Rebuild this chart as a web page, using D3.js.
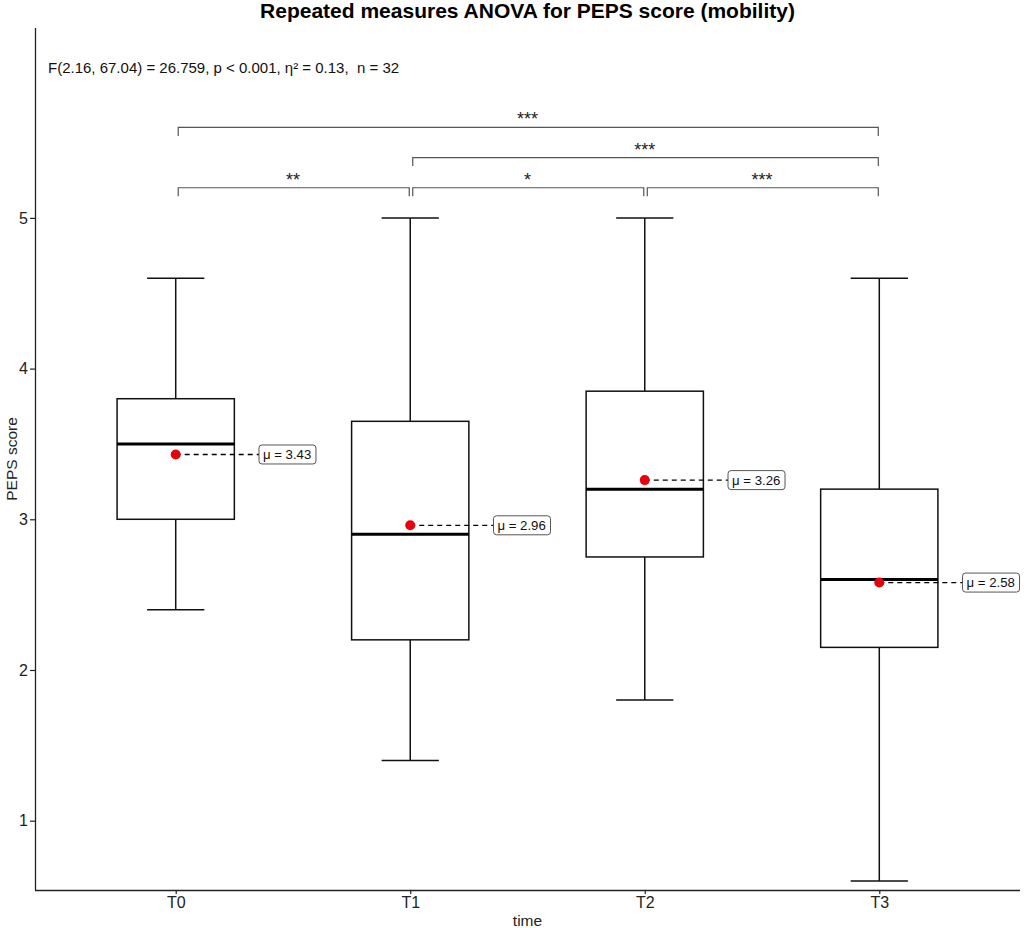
<!DOCTYPE html>
<html>
<head>
<meta charset="utf-8">
<script src="https://cdn.jsdelivr.net/npm/d3@7"></script>
<style>
  body { margin: 0; background: #fff; }
  text { font-family: "Liberation Sans", Arial, sans-serif; }
</style>
</head>
<body>
<div id="chart"></div>
<script>
// data
const groups = ["T0", "T1", "T2", "T3"];
const whiskerLow = [2.4, 1.4, 1.8, 0.6];
const q1 = [3.0, 2.2, 2.75, 2.15];
const medians = [3.5, 2.9, 3.2, 2.6];
const q3 = [3.8, 3.65, 3.85, 3.2];
const whiskerHigh = [4.6, 5.0, 5.0, 4.6];
const means = [3.43, 2.96, 3.26, 2.58];
const yTicks = [1, 2, 3, 4, 5];

// pairwise comparisons: [from, to, bracket height, label]
const comparisons = [
  ["T0", "T1", 5.2, "**"],
  ["T1", "T2", 5.2, "*"],
  ["T2", "T3", 5.2, "***"],
  ["T1", "T3", 5.4, "***"],
  ["T0", "T3", 5.6, "***"]
];

const title = "Repeated measures ANOVA for PEPS score (mobility)";
const subtitle = "F(2.16, 67.04) = 26.759, p < 0.001, \u03b7\u00b2 = 0.13,  n = 32";

const W = 1026, H = 928;
const MARGIN = {top: 28, right: 6, bottom: 38, left: 35};

const svg = d3.select("#chart")
  .append("svg")
    .attr("width", W)
    .attr("height", H);

const x = d3.scalePoint()
  .domain(groups)
  .range([MARGIN.left, W - MARGIN.right])
  .padding(0.6);

const y = d3.scaleLinear()
  .domain([0.54, 6.26])
  .range([H - MARGIN.bottom, MARGIN.top]);

const step = x.step();
const boxHalf = step * 0.25;
const capHalf = step * 0.122;

const stats = groups.map((g, i) => ({
  g, lo: whiskerLow[i], q1: q1[i], med: medians[i], q3: q3[i], hi: whiskerHigh[i], mean: means[i]
}));

// title
svg.append("text")
  .attr("x", (MARGIN.left + W - MARGIN.right) / 2)
  .attr("y", 18)
  .attr("text-anchor", "middle")
  .attr("font-size", 21)
  .attr("font-weight", "bold")
  .text(title);

svg.append("text")
  .attr("x", 48)
  .attr("y", 73)
  .attr("font-size", 15)
  .attr("fill", "#111")
  .style("white-space", "pre")
  .text(subtitle);

// axes
const xAxis = svg.append("g")
  .attr("transform", `translate(0,${H - MARGIN.bottom})`)
  .call(d3.axisBottom(x).tickSize(4).tickPadding(3));

const yAxis = svg.append("g")
  .attr("transform", `translate(${MARGIN.left},0)`)
  .call(d3.axisLeft(y).tickValues(yTicks).tickSize(5).tickPadding(2).tickFormat(d3.format("d")));

[xAxis, yAxis].forEach(a => {
  a.select(".domain").attr("stroke", "#222").attr("stroke-width", 1.3);
  a.selectAll(".tick line").attr("stroke", "#222").attr("stroke-width", 1.2);
  a.selectAll(".tick text")
    .attr("font-size", 16)
    .attr("fill", "#222")
    .style("font-family", "'Liberation Sans', Arial, sans-serif");
});
// axis lines without outer ticks
xAxis.select(".domain").attr("d", `M${MARGIN.left},0.5H${W - MARGIN.right}`);
yAxis.select(".domain").attr("d", `M0.5,${MARGIN.top}V${H - MARGIN.bottom}`);

svg.append("text")
  .attr("x", (MARGIN.left + W - MARGIN.right) / 2)
  .attr("y", 926)
  .attr("text-anchor", "middle")
  .attr("font-size", 15.5)
  .attr("fill", "#222")
  .text("time");

svg.append("text")
  .attr("transform", `translate(17,${(MARGIN.top + H - MARGIN.bottom) / 2}) rotate(-90)`)
  .attr("text-anchor", "middle")
  .attr("font-size", 15.5)
  .attr("fill", "#222")
  .text("PEPS score");

// boxplots
const box = svg.append("g").selectAll("g")
  .data(stats)
  .join("g");

box.append("line")
  .attr("x1", d => x(d.g)).attr("x2", d => x(d.g))
  .attr("y1", d => y(d.hi)).attr("y2", d => y(d.q3))
  .attr("stroke", "#111").attr("stroke-width", 1.5);

box.append("line")
  .attr("x1", d => x(d.g)).attr("x2", d => x(d.g))
  .attr("y1", d => y(d.q1)).attr("y2", d => y(d.lo))
  .attr("stroke", "#111").attr("stroke-width", 1.5);

box.selectAll(".cap")
  .data(d => [[d.g, d.hi], [d.g, d.lo]])
  .join("line")
    .attr("class", "cap")
    .attr("x1", d => x(d[0]) - capHalf).attr("x2", d => x(d[0]) + capHalf)
    .attr("y1", d => y(d[1])).attr("y2", d => y(d[1]))
    .attr("stroke", "#111").attr("stroke-width", 1.5);

box.append("rect")
  .attr("x", d => x(d.g) - boxHalf)
  .attr("width", boxHalf * 2)
  .attr("y", d => y(d.q3))
  .attr("height", d => y(d.q1) - y(d.q3))
  .attr("fill", "#fff")
  .attr("stroke", "#111")
  .attr("stroke-width", 1.5);

box.append("line")
  .attr("x1", d => x(d.g) - boxHalf).attr("x2", d => x(d.g) + boxHalf)
  .attr("y1", d => y(d.med)).attr("y2", d => y(d.med))
  .attr("stroke", "#000").attr("stroke-width", 3);

// mean labels
const labelOffset = step * 0.355;
box.append("line")
  .attr("x1", d => x(d.g)).attr("x2", d => x(d.g) + labelOffset)
  .attr("y1", d => y(d.mean)).attr("y2", d => y(d.mean))
  .attr("stroke", "#000").attr("stroke-width", 1.3)
  .attr("stroke-dasharray", "5,4");

box.append("circle")
  .attr("cx", d => x(d.g))
  .attr("cy", d => y(d.mean))
  .attr("r", 5)
  .attr("fill", "#e8000b");

const lab = box.append("g")
  .attr("transform", d => `translate(${x(d.g) + labelOffset},${y(d.mean)})`);

lab.append("rect")
  .attr("x", 0).attr("y", -9.5)
  .attr("width", 57).attr("height", 19)
  .attr("rx", 3)
  .attr("fill", "#fff")
  .attr("stroke", "#555")
  .attr("stroke-width", 1);

lab.append("text")
  .attr("x", 4).attr("y", 4.5)
  .attr("font-size", 13.2)
  .attr("fill", "#111")
  .text(d => `\u03bc = ${d.mean.toFixed(2)}`);

// significance brackets
const tip = 8.5;
const br = svg.append("g").selectAll("g")
  .data(comparisons)
  .join("g");

br.append("path")
  .attr("d", d => {
    const x0 = x(d[0]) + 2.5, x1 = x(d[1]) - 1, yy = y(d[2]);
    return `M${x0},${yy + tip}V${yy}H${x1}V${yy + tip}`;
  })
  .attr("fill", "none")
  .attr("stroke", "#555")
  .attr("stroke-width", 1.2);

br.append("text")
  .attr("x", d => (x(d[0]) + x(d[1])) / 2)
  .attr("y", d => y(d[2]) - 2)
  .attr("text-anchor", "middle")
  .attr("font-size", 18)
  .attr("fill", "#222")
  .text(d => d[3]);
</script>
</body>
</html>
